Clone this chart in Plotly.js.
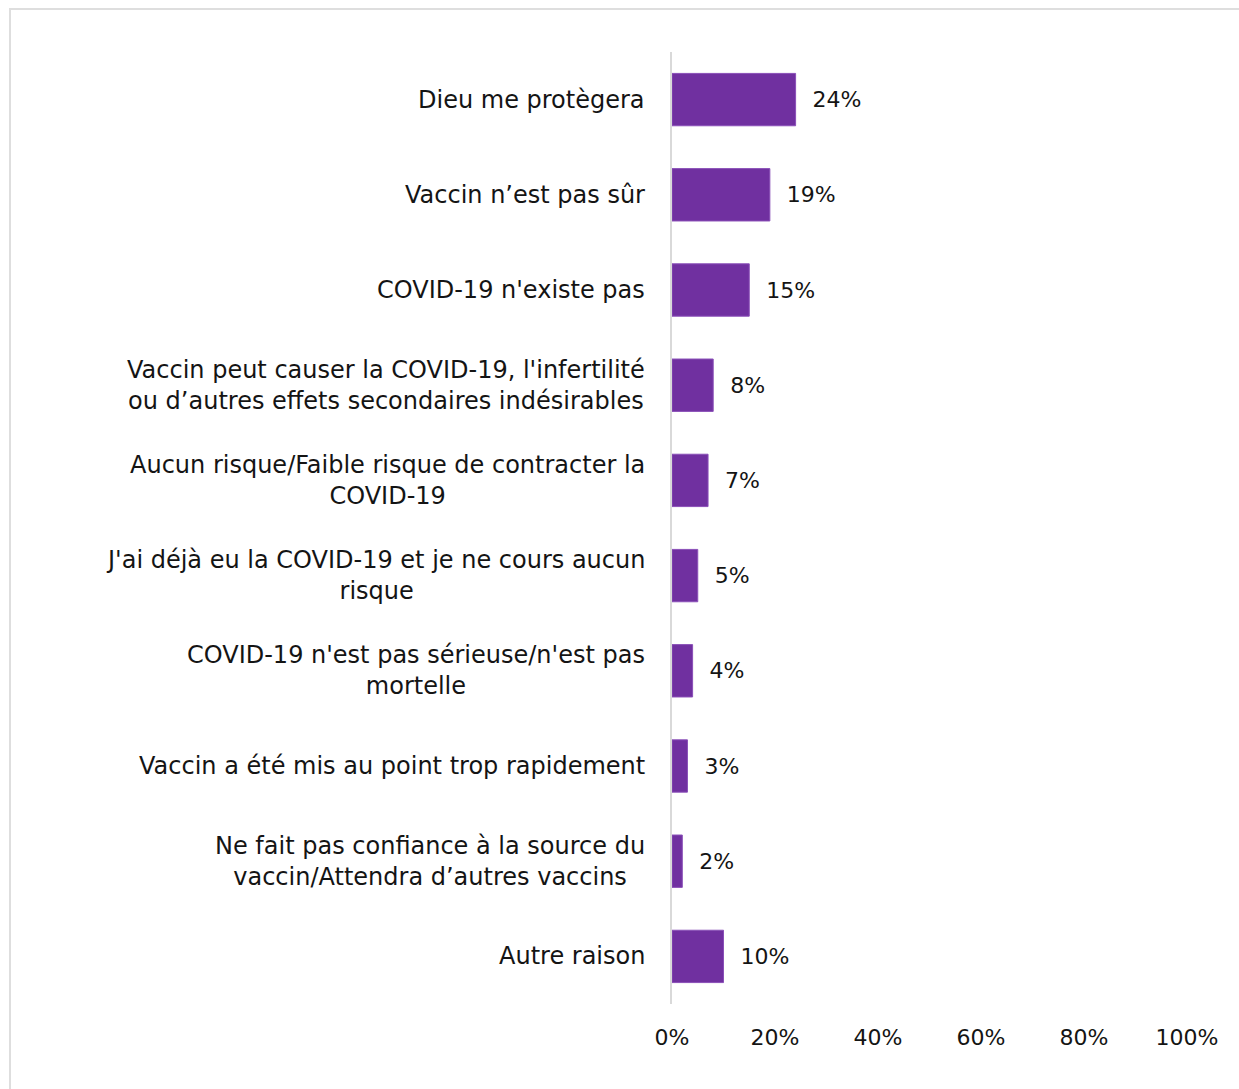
<!DOCTYPE html>
<html><head><meta charset="utf-8">
<script src="https://cdn.plot.ly/plotly-3.0.1.min.js"></script>
<style>
html,body{margin:0;padding:0;background:#fff;}
#frame{position:absolute;left:9px;top:8px;width:1300px;height:1200px;border-left:2px solid #dedede;border-top:2px solid #dedede;}
#chart{position:absolute;left:0;top:0;width:1239px;height:1089px;}
</style></head>
<body>
<div id="frame"></div>
<div id="chart"></div>
<script>
const categories = [
  "Dieu me protègera",
  "Vaccin n’est pas sûr",
  "COVID-19 n'existe pas",
  "Vaccin peut causer la COVID-19, l'infertilité<br>ou d’autres effets secondaires indésirables",
  "Aucun risque/Faible risque de contracter la<br>COVID-19",
  "J'ai déjà eu la COVID-19 et je ne cours aucun<br>risque",
  "COVID-19 n'est pas sérieuse/n'est pas<br>mortelle",
  "Vaccin a été mis au point trop rapidement",
  "Ne fait pas confiance à la source du<br>vaccin/Attendra d’autres vaccins",
  "Autre raison"
];
const values = [24, 19, 15, 8, 7, 5, 4, 3, 2, 10];
const tickVals = [0, 20, 40, 60, 80, 100];
const tickLabels = ["0%", "20%", "40%", "60%", "80%", "100%"];

const font = "DejaVu Sans, sans-serif";
const txtColor = '#141414';

const labelAnnotations = categories.map(c => ({
  xref: 'paper', yref: 'y', x: 0, y: c,
  xanchor: 'right', yanchor: 'middle', xshift: -25,
  align: 'center', showarrow: false, text: c,
  font: {family: font, size: 24, color: txtColor}
}));

Plotly.newPlot('chart', [{
  type: 'bar',
  orientation: 'h',
  y: categories,
  x: values,
  marker: {color: '#7030A0', line: {color: '#8a4fb8', width: 1}},
  text: values.map(v => v + '%'),
  texttemplate: '\u00a0\u00a0%{text}',
  textposition: 'outside',
  cliponaxis: false,
  textfont: {family: font, size: 22, color: txtColor},
  hoverinfo: 'skip'
}], {
  width: 1239, height: 1089,
  paper_bgcolor: 'rgba(0,0,0,0)',
  plot_bgcolor: 'rgba(0,0,0,0)',
  margin: {l: 672, r: 52, t: 52, b: 85},
  bargap: 0.45,
  showlegend: false,
  font: {family: font, size: 22, color: txtColor},
  annotations: labelAnnotations,
  xaxis: {
    range: [0, 100], tickvals: tickVals, ticktext: tickLabels,
    showgrid: false, zeroline: false, showline: false, ticks: '',
    tickfont: {family: font, size: 22, color: txtColor},
    ticklabelstandoff: 18, fixedrange: true
  },
  yaxis: {
    autorange: 'reversed', showgrid: false, zeroline: false,
    showline: true, linecolor: '#d9d9d9', linewidth: 2, ticks: '',
    showticklabels: false,
    fixedrange: true
  }
}, {displayModeBar: false, staticPlot: true});
</script>
</body></html>
